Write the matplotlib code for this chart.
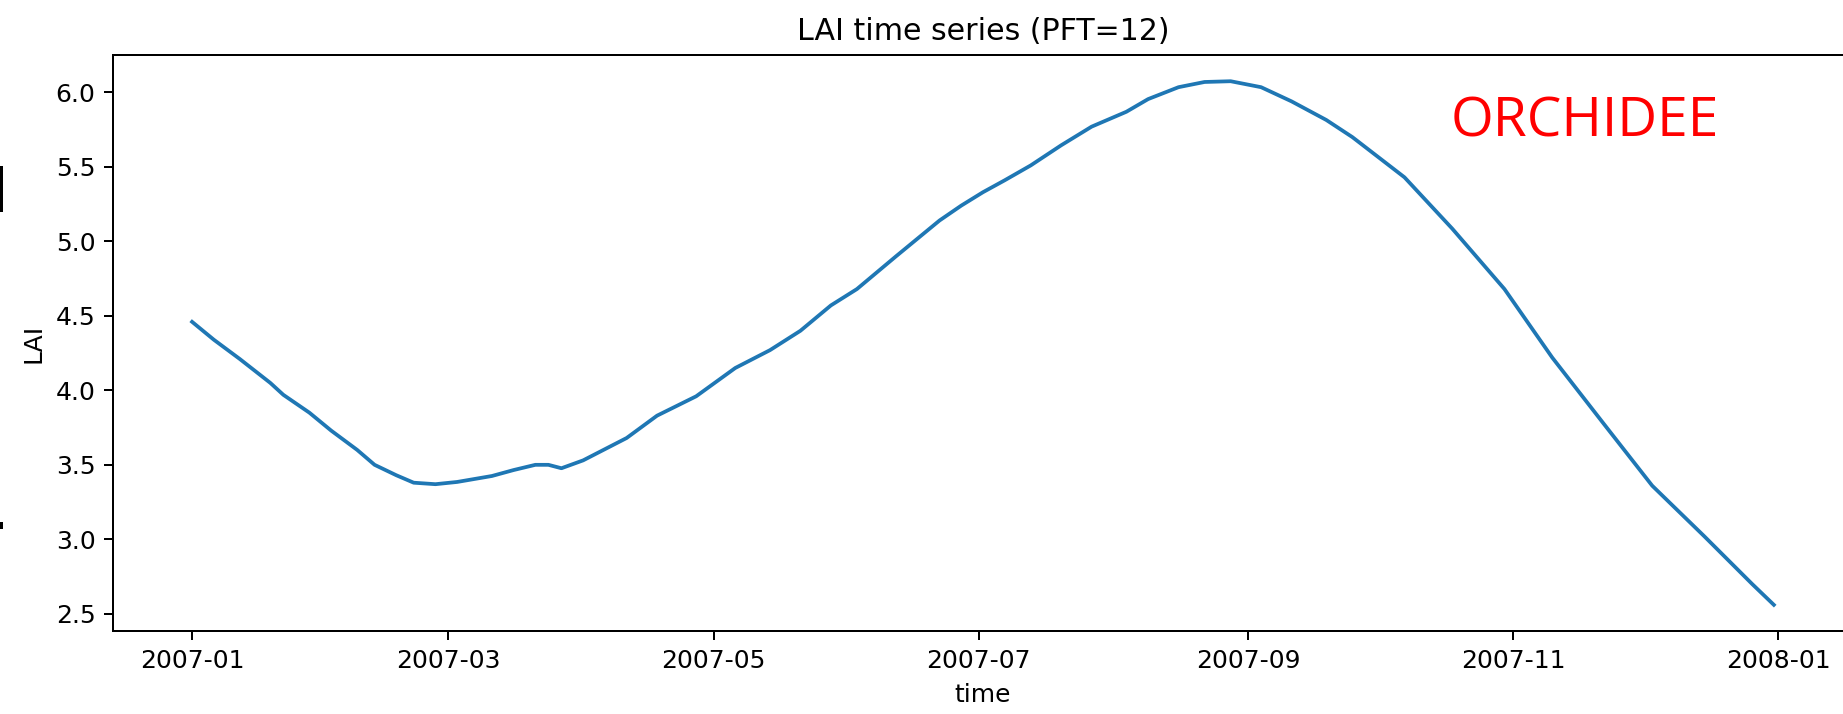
import matplotlib
matplotlib.use("Agg")
import matplotlib.pyplot as plt
import matplotlib.dates as mdates
from matplotlib.lines import Line2D
import numpy as np

# LAI values (PFT=12), 2007
dates = [
    "2007-01-01", "2007-01-06", "2007-01-12", "2007-01-19", "2007-01-22", "2007-01-28",
    "2007-02-02", "2007-02-08", "2007-02-12", "2007-02-17", "2007-02-21", "2007-02-26",
    "2007-03-03", "2007-03-11", "2007-03-16", "2007-03-21", "2007-03-24", "2007-03-27",
    "2007-04-01", "2007-04-05", "2007-04-11", "2007-04-18", "2007-04-27",
    "2007-05-06", "2007-05-14", "2007-05-21", "2007-05-28",
    "2007-06-03", "2007-06-12", "2007-06-22", "2007-06-27",
    "2007-07-02", "2007-07-07", "2007-07-13", "2007-07-20", "2007-07-27",
    "2007-08-04", "2007-08-09", "2007-08-16", "2007-08-22", "2007-08-28",
    "2007-09-04", "2007-09-11", "2007-09-19", "2007-09-25",
    "2007-10-07", "2007-10-18", "2007-10-30",
    "2007-11-10", "2007-11-22",
    "2007-12-03", "2007-12-15", "2007-12-26", "2007-12-31",
]
lai = [
    4.46, 4.34, 4.21, 4.05, 3.97, 3.85,
    3.73, 3.60, 3.50, 3.43, 3.38, 3.37,
    3.385, 3.425, 3.465, 3.50, 3.50, 3.477,
    3.53, 3.59, 3.68, 3.83, 3.96,
    4.15, 4.27, 4.40, 4.57,
    4.68, 4.90, 5.14, 5.24,
    5.33, 5.41, 5.51, 5.645, 5.77,
    5.87, 5.955, 6.035, 6.07, 6.075,
    6.035, 5.94, 5.815, 5.70,
    5.43, 5.085, 4.68,
    4.22, 3.77,
    3.36, 3.02, 2.70, 2.56,
]
title = "LAI time series (PFT=12)"
model_name = "ORCHIDEE"

time = np.array(dates, dtype="datetime64[D]")

fig = plt.figure(figsize=(1843 / 180, 714 / 180), dpi=180)
ax = fig.add_axes([0.0613, 0.1162, 0.9441, 0.8067])

ax.plot(time, lai, color="#1f77b4", linewidth=1.5)
ax.set_title(title)
ax.set_xlabel("time")
ax.set_ylabel("LAI")
ax.xaxis.set_major_locator(mdates.MonthLocator(bymonth=[1, 3, 5, 7, 9, 11]))
ax.xaxis.set_major_formatter(mdates.DateFormatter("%Y-%m"))

fig.text(1585 / 1843, 1 - 122 / 714, model_name, color="red", fontsize=22,
         family="Open Sans", ha="center", va="center")

# small crop artefacts on the left edge of the screenshot
fig.add_artist(Line2D([0.0005, 0.0005], [1 - 167 / 714, 1 - 210 / 714], color="black", lw=1.2))
fig.add_artist(Line2D([0.0005, 0.0005], [1 - 523 / 714, 1 - 527 / 714], color="black", lw=1.2))

fig.savefig("out.png", dpi=180)
